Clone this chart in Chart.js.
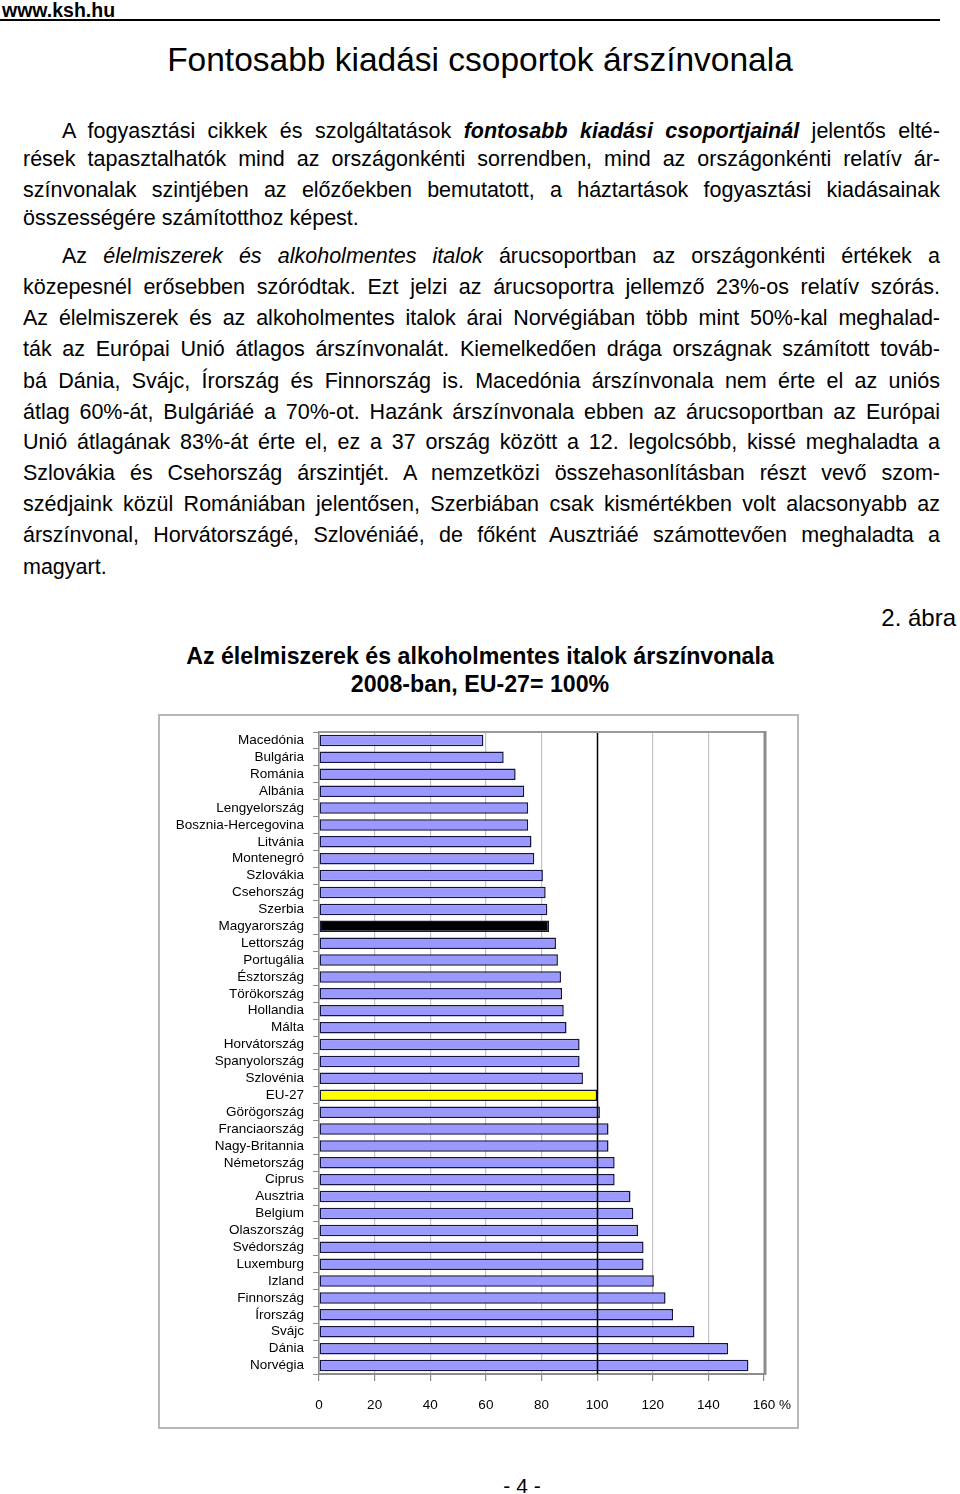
<!DOCTYPE html>
<html lang="hu">
<head>
<meta charset="utf-8">
<title>Az élelmiszerek és alkoholmentes italok árszínvonala</title>
<script src="https://cdn.jsdelivr.net/npm/chart.js@4/dist/chart.umd.min.js"></script>
<style>
  html, body { margin: 0; padding: 0; background: #fff; }
  body { width: 960px; height: 1494px; position: relative; overflow: hidden;
         font-family: "Liberation Sans", Arial, sans-serif; color: #000; }
  .abs { position: absolute; }
  #hdr { left: 2px; top: 0px; font-size: 19.5px; font-weight: bold; line-height: 20px; }
  #hdrline { left: 0px; top: 19px; width: 940px; height: 0; border-top: 2px solid #000; }
  #title { left: 0; width: 960px; top: 40px; text-align: center; font-size: 33.5px; line-height: 40px; }
  .ln { position: absolute; left: 23px; width: 917px; font-size: 21.5px; line-height: 31px;
        white-space: nowrap; }
  .ln .t { display: inline-block; white-space: nowrap; }
  .ln.ind { left: 62px; width: 878px; }
  #fig { right: 4px; top: 603px; font-size: 24px; line-height: 30px; }
  #ctitle { left: 0; width: 960px; top: 642px; text-align: center; font-weight: bold;
            font-size: 23.2px; line-height: 28px; }
  #frame { left: 158px; top: 714px; width: 641px; height: 715px; box-sizing: border-box;
           border: 2px solid #b8b8b8; pointer-events: none; }
  #wrap { left: 158px; top: 714px; width: 641px; height: 715px; }
  #pg { left: 0; width: 1044px; top: 1472px; text-align: center; font-size: 21px; line-height: 28px; }
</style>
</head>
<body>
<div id="hdr" class="abs">www.ksh.hu</div>
<div id="hdrline" class="abs"></div>
<div id="title" class="abs">Fontosabb kiadási csoportok árszínvonala</div>

<div class="ln ind j" style="top:116px"><span class="t">A fogyasztási cikkek és szolgáltatások <b><i>fontosabb kiadási csoportjainál</i></b> jelentős elté-</span></div>
<div class="ln j" style="top:144px"><span class="t">rések tapasztalhatók mind az országonkénti sorrendben, mind az országonkénti relatív ár-</span></div>
<div class="ln j" style="top:175px"><span class="t">színvonalak szintjében az előzőekben bemutatott, a háztartások fogyasztási kiadásainak</span></div>
<div class="ln" style="top:203px"><span class="t">összességére számítotthoz képest.</span></div>
<div class="ln ind j" style="top:241px"><span class="t">Az <i>élelmiszerek és alkoholmentes italok</i> árucsoportban az országonkénti értékek a</span></div>
<div class="ln j" style="top:272px"><span class="t">közepesnél erősebben szóródtak. Ezt jelzi az árucsoportra jellemző 23%-os relatív szórás.</span></div>
<div class="ln j" style="top:303px"><span class="t">Az élelmiszerek és az alkoholmentes italok árai Norvégiában több mint 50%-kal meghalad-</span></div>
<div class="ln j" style="top:334px"><span class="t">ták az Európai Unió átlagos árszínvonalát. Kiemelkedően drága országnak számított továb-</span></div>
<div class="ln j" style="top:366px"><span class="t">bá Dánia, Svájc, Írország és Finnország is. Macedónia árszínvonala nem érte el az uniós</span></div>
<div class="ln j" style="top:397px"><span class="t">átlag 60%-át, Bulgáriáé a 70%-ot. Hazánk árszínvonala ebben az árucsoportban az Európai</span></div>
<div class="ln j" style="top:427px"><span class="t">Unió átlagának 83%-át érte el, ez a 37 ország között a 12. legolcsóbb, kissé meghaladta a</span></div>
<div class="ln j" style="top:458px"><span class="t">Szlovákia és Csehország árszintjét. A nemzetközi összehasonlításban részt vevő szom-</span></div>
<div class="ln j" style="top:489px"><span class="t">szédjaink közül Romániában jelentősen, Szerbiában csak kismértékben volt alacsonyabb az</span></div>
<div class="ln j" style="top:520px"><span class="t">árszínvonal, Horvátországé, Szlovéniáé, de főként Ausztriáé számottevően meghaladta a</span></div>
<div class="ln" style="top:552px"><span class="t">magyart.</span></div>

<div id="fig" class="abs">2. ábra</div>
<div id="ctitle" class="abs">Az élelmiszerek és alkoholmentes italok árszínvonala<br>2008-ban, EU-27= 100%</div>

<div id="wrap" class="abs"><canvas id="c" width="641" height="715"></canvas></div>
<div id="frame" class="abs"></div>

<div id="pg" class="abs">- 4 -</div>

<script>
// ---- data ----
const categories = [
  "Macedónia", "Bulgária", "Románia", "Albánia", "Lengyelország",
  "Bosznia-Hercegovina", "Litvánia", "Montenegró", "Szlovákia", "Csehország",
  "Szerbia", "Magyarország", "Lettország", "Portugália", "Észtország",
  "Törökország", "Hollandia", "Málta", "Horvátország", "Spanyolország",
  "Szlovénia", "EU-27", "Görögország", "Franciaország", "Nagy-Britannia",
  "Németország", "Ciprus", "Ausztria", "Belgium", "Olaszország",
  "Svédország", "Luxemburg", "Izland", "Finnország", "Írország",
  "Svájc", "Dánia", "Norvégia"
];
const values = [
  59.1, 66.4, 70.7, 73.8, 75.2,
  75.2, 76.4, 77.4, 80.5, 81.5,
  82.1, 82.7, 85.2, 85.9, 87.0,
  87.4, 88.0, 89.0, 93.7, 93.7,
  94.9, 100.0, 101.0, 104.1, 104.1,
  106.3, 106.3, 112.0, 113.0, 114.7,
  116.7, 116.7, 120.4, 124.6, 127.3,
  135.0, 147.1, 154.4
];
const xTicks = [0, 20, 40, 60, 80, 100, 120, 140, 160];
const xUnit = "%";
const referenceValue = 100;
const hungary = "Magyarország";
const euAverage = "EU-27";

// ---- justify body text lines (one line per block, like the printed page) ----
document.querySelectorAll(".ln.j").forEach(div => {
  const span = div.querySelector(".t");
  const target = div.clientWidth;
  const natural = span.getBoundingClientRect().width;
  const spaces = (span.textContent.match(/ /g) || []).length;
  if (spaces > 0) span.style.wordSpacing = ((target - natural) / spaces) + "px";
});

// ---- styles ----
const FONT = "'Liberation Sans', Arial, sans-serif";
const TICK_SIZE = 13.5;
const X_TICK_LEN = 7;
const X_TICK_PAD = 16;
const barColors = categories.map(c => c === hungary ? "#000000" : (c === euAverage ? "#ffff00" : "#9999ff"));

const framePlugin = {
  id: "framePlugin",
  afterDatasetsDraw(chart) {
    const ctx = chart.ctx;
    const a = chart.chartArea;
    const xs = chart.scales.x;
    ctx.save();
    // reference line at 100 drawn over the bars
    const px = Math.round(xs.getPixelForValue(referenceValue)) + 0.5;
    ctx.strokeStyle = "#000";
    ctx.lineWidth = 1.5;
    ctx.beginPath(); ctx.moveTo(px, a.top); ctx.lineTo(px, a.bottom); ctx.stroke();
    // plot-area border: thin top, thick shaded right
    ctx.strokeStyle = "#9a9a9a";
    ctx.lineWidth = 2;
    ctx.beginPath(); ctx.moveTo(a.left, a.top); ctx.lineTo(a.right + 2, a.top); ctx.stroke();
    ctx.strokeStyle = "#8c8c8c";
    ctx.lineWidth = 3;
    ctx.beginPath(); ctx.moveTo(a.right + 1, a.top - 1); ctx.lineTo(a.right + 1, a.bottom + 1); ctx.stroke();
    ctx.restore();
  },
  afterDraw(chart) {
    // unit sign after the last x tick label, on the same line as the tick labels
    const xs = chart.scales.x;
    const ctx = chart.ctx;
    ctx.save();
    ctx.font = TICK_SIZE + "px " + FONT;
    ctx.fillStyle = "#000";
    const lastValue = xTicks[xTicks.length - 1];
    const w = ctx.measureText(String(lastValue)).width;
    const x = xs.getPixelForValue(lastValue) + w / 2 + ctx.measureText(" ").width;
    const y = xs.top + X_TICK_LEN + X_TICK_PAD + TICK_SIZE * 1.2 / 2;
    ctx.textBaseline = "middle";
    ctx.textAlign = "left";
    ctx.fillText(xUnit, x, y);
    ctx.restore();
  }
};

new Chart(document.getElementById("c"), {
  type: "bar",
  data: {
    labels: categories,
    datasets: [{
      data: values,
      backgroundColor: barColors,
      borderColor: "#14143c",
      borderWidth: 1.5,
      borderSkipped: false,
      barPercentage: 0.68,
      categoryPercentage: 1.0
    }]
  },
  options: {
    indexAxis: "y",
    responsive: false,
    devicePixelRatio: 1,
    animation: false,
    layout: { padding: { left: 0, top: 18, right: 35, bottom: 0 } },
    plugins: { legend: { display: false }, tooltip: { enabled: false }, title: { display: false } },
    scales: {
      x: {
        type: "linear",
        position: "bottom",
        min: xTicks[0],
        max: xTicks[xTicks.length - 1],
        afterBuildTicks(scale) { scale.ticks = xTicks.map(v => ({ value: v })); },
        afterFit(scale) { scale.height = 55; },
        grid: {
          color: ctx => (ctx.tick && (ctx.tick.value === referenceValue || ctx.tick.value === xTicks[xTicks.length - 1])) ? "rgba(0,0,0,0)" : "#c4c4c4",
          lineWidth: 1.2,
          tickColor: "#8a8a8a",
          tickLength: X_TICK_LEN
        },
        border: { color: "#8c8c8c", width: 2 },
        ticks: {
          color: "#000",
          font: { family: FONT, size: TICK_SIZE },
          padding: X_TICK_PAD,
          maxRotation: 0,
          autoSkip: false,
          callback: v => String(v)
        }
      },
      y: {
        type: "category",
        position: "left",
        offset: true,
        afterFit(scale) { scale.width = 161; },
        grid: { drawOnChartArea: false, offset: true, tickColor: "#8a8a8a", tickLength: 6 },
        border: { color: "#8c8c8c", width: 1.5 },
        ticks: { color: "#000", font: { family: FONT, size: TICK_SIZE }, padding: 9, autoSkip: false }
      }
    }
  },
  plugins: [framePlugin]
});
</script>
</body>
</html>
